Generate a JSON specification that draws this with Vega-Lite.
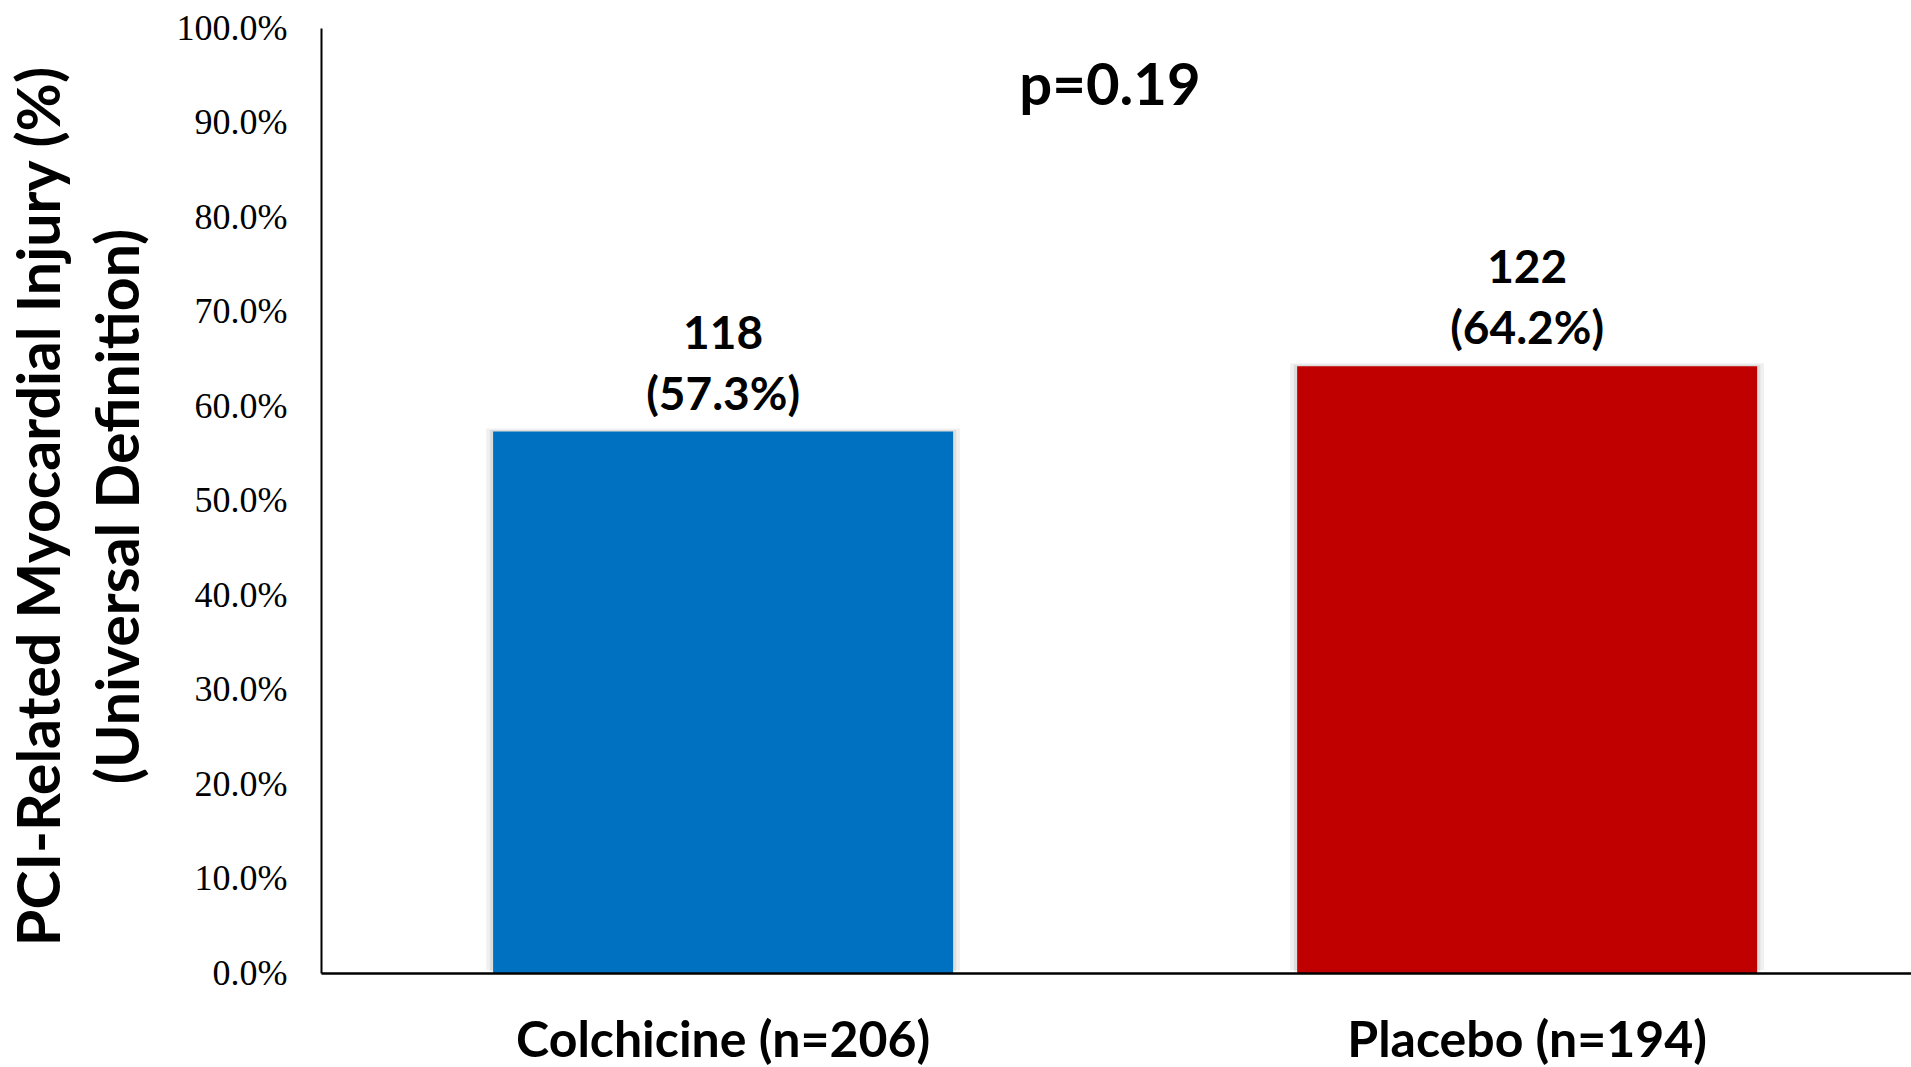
{
  "$schema": "https://vega.github.io/schema/vega-lite/v6.json",
  "width": 1590,
  "height": 945,
  "autosize": {"type": "none"},
  "padding": {"left": 321, "top": 28, "right": 0, "bottom": 94},
  "background": "white",
  "config": {"view": {"stroke": null}},
  "layer": [
    {
      "data": {
        "values": [
          {"group": "Colchicine (n=206)", "events": 118, "rate": 0.573},
          {"group": "Placebo (n=194)", "events": 122, "rate": 0.642}
        ]
      },
      "transform": [
        {"calculate": "[format(datum.events, 'd'), '(' + format(datum.rate, '.1%') + ')']", "as": "label"}
      ],
      "encoding": {
        "x": {
          "field": "group",
          "type": "nominal",
          "sort": null,
          "scale": {"paddingInner": 0.4279, "paddingOuter": 0.2027, "align": 0.528},
          "axis": {
            "title": null,
            "zindex": 1,
            "domainColor": "black",
            "domainWidth": 2.5,
            "ticks": false,
            "tickSize": 0,
            "labelFont": "Lato",
            "labelFontWeight": "bold",
            "labelFontSize": 50,
            "labelColor": "black",
            "labelPadding": 83,
            "labelBaseline": "alphabetic",
            "labelAngle": 0,
            "labelLimit": 0
          }
        },
        "y": {
          "field": "rate",
          "type": "quantitative",
          "scale": {"domain": [0, 1]},
          "axis": {
            "zindex": 1,
            "values": [0, 0.1, 0.2, 0.3, 0.4, 0.5, 0.6, 0.7, 0.8, 0.9, 1],
            "format": ".1%",
            "grid": false,
            "domainColor": "black",
            "domainWidth": 2,
            "ticks": false,
            "tickSize": 0,
            "labelFont": "Liberation Serif",
            "labelFontSize": 36,
            "labelColor": "black",
            "labelPadding": 34,
            "labelBaseline": "middle",
            "labelFlush": false,
            "labelOverlap": false,
            "title": ["PCI-Related Myocardial Injury (%)", "(Universal Definition)"],
            "titleFont": "Lato",
            "titleFontWeight": "bold",
            "titleFontSize": 59,
            "titleColor": "black",
            "titleAngle": -90,
            "titleAlign": "center",
            "titleBaseline": "middle",
            "titleLineHeight": 79,
            "titleX": -280,
            "titleY": 478
          }
        }
      },
      "layer": [
        {
          "mark": {"type": "bar", "color": "black", "opacity": 0.06, "width": {"band": 1.03}, "yOffset": -3},
          "encoding": {}
        },
        {
          "mark": {"type": "bar", "color": "black", "opacity": 0.08, "width": {"band": 1.014}, "yOffset": -1.5},
          "encoding": {}
        },
        {
          "mark": {"type": "bar"},
          "encoding": {
            "color": {
              "field": "group",
              "type": "nominal",
              "scale": {"range": ["#0070C0", "#C00000"]},
              "legend": null
            }
          }
        },
        {
          "mark": {
            "type": "text",
            "font": "Lato",
            "fontWeight": "bold",
            "fontSize": 46,
            "color": "black",
            "align": "center",
            "baseline": "bottom",
            "lineHeight": 61,
            "dy": -73
          },
          "encoding": {"text": {"field": "label"}}
        }
      ]
    },
    {
      "data": {"values": [{"note": "p=0.19"}]},
      "mark": {
        "type": "text",
        "font": "Lato",
        "fontWeight": "bold",
        "fontSize": 58,
        "color": "black",
        "align": "center",
        "baseline": "middle",
        "dx": -6
      },
      "encoding": {
        "y": {"datum": 0.9365, "type": "quantitative"},
        "text": {"field": "note"}
      }
    }
  ]
}
